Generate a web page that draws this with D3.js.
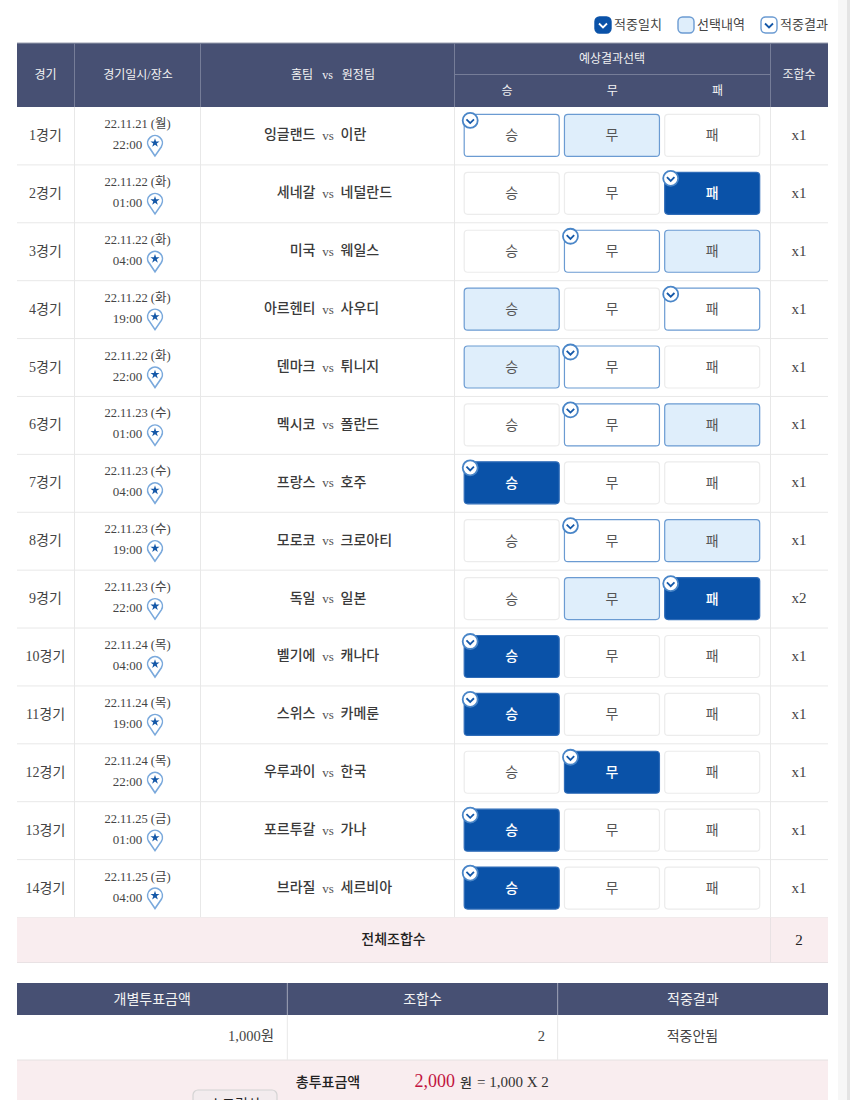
<!DOCTYPE html>
<html lang="ko">
<head>
<meta charset="utf-8">
<script src="https://cdn.jsdelivr.net/npm/d3@7"></script>
<style>
  html, body { margin: 0; padding: 0; background: #fff; overflow: hidden; }
  svg { display: block; }
  text { font-family: "Liberation Serif", "Noto Sans CJK KR", serif; white-space: pre; }
</style>
</head>
<body>
<div id="chart"></div>
<script>
const gameLabels = ['1경기', '2경기', '3경기', '4경기', '5경기', '6경기', '7경기', '8경기', '9경기', '10경기', '11경기', '12경기', '13경기', '14경기'];
const gameDates = ['22.11.21 (월)', '22.11.22 (화)', '22.11.22 (화)', '22.11.22 (화)', '22.11.22 (화)', '22.11.23 (수)', '22.11.23 (수)', '22.11.23 (수)', '22.11.23 (수)', '22.11.24 (목)', '22.11.24 (목)', '22.11.24 (목)', '22.11.25 (금)', '22.11.25 (금)'];
const gameTimes = ['22:00', '01:00', '04:00', '19:00', '22:00', '01:00', '04:00', '19:00', '22:00', '04:00', '19:00', '22:00', '01:00', '04:00'];
const homeTeams = ['잉글랜드', '세네갈', '미국', '아르헨티', '덴마크', '멕시코', '프랑스', '모로코', '독일', '벨기에', '스위스', '우루과이', '포르투갈', '브라질'];
const awayTeams = ['이란', '네덜란드', '웨일스', '사우디', '튀니지', '폴란드', '호주', '크로아티', '일본', '캐나다', '카메룬', '한국', '가나', '세르비아'];
const outcomes = ['승', '무', '패'];
// what was picked and what actually happened, per game
const picks = [['무'], ['패'], ['패'], ['승'], ['승'], ['패'], ['승'], ['패'], ['무', '패'], ['승'], ['승'], ['무'], ['승'], ['승']];
const results = ['승', '패', '무', '패', '무', '무', '승', '무', '패', '승', '승', '무', '승', '승'];
const combos = [1, 1, 1, 1, 1, 1, 1, 1, 2, 1, 1, 1, 1, 1];
const legendItems = [['적중일치', 'match'], ['선택내역', 'pick'], ['적중결과', 'result']];
const summaryHeaders = ['개별투표금액', '조합수', '적중결과'];

const width = 850;
const height = 1100;
const navy = '#475073';
const blue = '#0a52a8';
const edge = '#6b9bd2';
const paleBlue = '#dfeefb';
const pink = '#f9edef';
const grid = '#e8e8e8';
const textColor = '#444';

const svg = d3.select('#chart').append('svg')
  .attr('width', width)
  .attr('height', height);

const left = 17;
const right = 828;
const colX = [left, 74, 200, 454, 770, right];

const y = d3.scaleBand().domain(d3.range(gameLabels.length)).range([107, 917.5]);
const rowMid = i => y(i) + y.bandwidth() / 2;
const outcomeX = d3.scalePoint().domain(outcomes).range([511.7, 712.2]);
const btnW = 95;
const btnH = 42;

function label(g, x, yy, str, opts = {}) {
  return g.append('text')
    .attr('x', x)
    .attr('y', yy)
    .attr('text-anchor', opts.anchor || 'middle')
    .attr('dominant-baseline', 'central')
    .attr('font-size', opts.size || 13)
    .attr('font-weight', opts.weight || 400)
    .attr('fill', opts.color || textColor)
    .text(str);
}

// scrollbar strip on the right side of the screenshot
svg.append('rect').attr('x', 838).attr('y', 0).attr('width', 12).attr('height', height).attr('fill', '#f7f7f7');
svg.append('rect').attr('x', 847).attr('y', 0).attr('width', 3).attr('height', height).attr('fill', '#e4e4e4');

// little check badge on the result button
function checkBadge(g, cx, cy, r) {
  g.append('circle').attr('cx', cx).attr('cy', cy).attr('r', r)
    .attr('fill', '#fff').attr('stroke', '#4a86c8').attr('stroke-width', 1.8);
  g.append('path')
    .attr('d', d3.line()([[cx - r * 0.5, cy - r * 0.15], [cx, cy + r * 0.35], [cx + r * 0.5, cy - r * 0.15]]))
    .attr('fill', 'none').attr('stroke', '#1558a8').attr('stroke-width', 1.8);
}

function legendBox(g, x, kind) {
  const s = 16;
  const top = 17;
  g.append('rect').attr('x', x).attr('y', top).attr('width', s).attr('height', s).attr('rx', 4.5)
    .attr('fill', kind === 'match' ? blue : kind === 'pick' ? paleBlue : '#fff')
    .attr('stroke', kind === 'match' ? blue : edge)
    .attr('stroke-width', 1.4);
  if (kind !== 'pick') {
    g.append('path')
      .attr('d', d3.line()([[x + 4, top + 6.5], [x + 8, top + 10.5], [x + 12, top + 6.5]]))
      .attr('fill', 'none')
      .attr('stroke', kind === 'match' ? '#fff' : '#1558a8')
      .attr('stroke-width', 1.8);
  }
}

const legendX = d3.scalePoint().domain(legendItems.map(d => d[1])).range([595, 761]);
const legend = svg.append('g');
legendItems.forEach(([name, kind]) => {
  legendBox(legend, legendX(kind), kind);
  label(legend, legendX(kind) + 19, 24, name, { anchor: 'start', size: 13 });
});

// header
const head = svg.append('g');
head.append('rect').attr('x', left).attr('y', 43).attr('width', right - left).attr('height', 64).attr('fill', navy);
head.append('line').attr('x1', left).attr('x2', right).attr('y1', 43).attr('y2', 43).attr('stroke', '#9a9fb0');
colX.slice(1, -1).forEach(x => {
  head.append('line').attr('x1', x + 0.5).attr('x2', x + 0.5).attr('y1', 43).attr('y2', 107).attr('stroke', '#767d98');
});
head.append('line').attr('x1', colX[3]).attr('x2', colX[4]).attr('y1', 74.5).attr('y2', 74.5).attr('stroke', '#767d98');
label(head, 45.5, 75, '경기', { color: '#f2f2f2', size: 12 });
label(head, 138, 75, '경기일시/장소', { color: '#f2f2f2', size: 12 });
label(head, 333, 75, '홈팀   vs   원정팀', { color: '#f2f2f2', size: 12 });
label(head, 612, 59, '예상결과선택', { color: '#f2f2f2', size: 12 });
label(head, 799, 75, '조합수', { color: '#f2f2f2', size: 12 });
const headOutcomeX = d3.scalePoint().domain(outcomes).range([507, 717.5]);
outcomes.forEach(o => label(head, headOutcomeX(o), 91, o, { color: '#f2f2f2', size: 12 }));

// grid of the game rows
const body = svg.append('g');
gameLabels.forEach((_, i) => {
  body.append('line').attr('x1', left).attr('x2', right)
    .attr('y1', y(i) + y.bandwidth()).attr('y2', y(i) + y.bandwidth())
    .attr('stroke', grid);
});
colX.slice(1, -1).forEach(x => {
  body.append('line').attr('x1', x + 0.5).attr('x2', x + 0.5).attr('y1', 107).attr('y2', 917.5).attr('stroke', grid);
});

function pin(g, cx, cy) {
  const p = d3.path();
  p.moveTo(cx, cy + 13);
  p.lineTo(cx - 6.2, cy + 3.8);
  p.arc(cx, cy, 7.4, Math.PI * 0.83, Math.PI * 2.17);
  p.closePath();
  g.append('path').attr('d', p.toString())
    .attr('fill', '#fff').attr('stroke', '#7aa9dc').attr('stroke-width', 1.6);
  g.append('path').attr('d', d3.symbol(d3.symbolStar, 26)())
    .attr('transform', `translate(${cx},${cy})`)
    .attr('fill', '#1558a8');
}

gameLabels.forEach((name, i) => {
  const g = body.append('g');
  const mid = rowMid(i);
  label(g, 45.5, mid - 0.5, name, { size: 14 });
  label(g, 137.5, mid - 12, gameDates[i], { size: 12.5 });
  label(g, 127.5, mid + 8.5, gameTimes[i], { size: 13 });
  pin(g, 155, mid + 7);

  // the vs stays put, names hang off either side of it
  label(g, 315.5, mid - 1, homeTeams[i], { anchor: 'end', size: 14, weight: 500, color: '#3a3a3a' });
  label(g, 328, mid - 0.5, 'vs', { size: 13, color: '#555' });
  label(g, 340.5, mid - 1, awayTeams[i], { anchor: 'start', size: 14, weight: 500, color: '#3a3a3a' });
  label(g, 799, mid - 1, `x${combos[i]}`, { size: 15 });

  outcomes.forEach(o => {
    const isPick = picks[i].includes(o);
    const isResult = results[i] === o;
    const match = isPick && isResult;
    const x = outcomeX(o) - btnW / 2;
    const top = mid - btnH / 2 - 0.5;
    g.append('rect')
      .attr('x', x).attr('y', top)
      .attr('width', btnW).attr('height', btnH)
      .attr('rx', 3.5)
      .attr('fill', match ? blue : isPick ? paleBlue : '#fff')
      .attr('stroke', match ? '#2f6cb8' : (isPick || isResult) ? edge : '#ececec')
      .attr('stroke-width', 1.2);
    label(g, outcomeX(o), mid, o, { size: 14, color: match ? '#fff' : '#555', weight: match ? 500 : 400 });
    if (isResult) checkBadge(g, x + 6, top + 6, 7.5);
  });
});

// total row
const total = svg.append('g');
total.append('rect').attr('x', left).attr('y', 917.5).attr('width', right - left).attr('height', 45).attr('fill', pink);
total.append('line').attr('x1', left).attr('x2', right).attr('y1', 962.5).attr('y2', 962.5).attr('stroke', '#e9e2e4');
total.append('line').attr('x1', 770.5).attr('x2', 770.5).attr('y1', 917.5).attr('y2', 962.5).attr('stroke', '#e9e2e4');
label(total, 393.5, 939, '전체조합수', { size: 14, weight: 500, color: '#222' });
label(total, 799, 939.5, '2', { size: 15, color: '#222' });

// lower summary table
const summaryX = d3.scaleBand().domain(summaryHeaders).range([left, right]);
const summary = svg.append('g');
summary.append('rect').attr('x', left).attr('y', 983).attr('width', right - left).attr('height', 32).attr('fill', navy);
summary.append('rect').attr('x', left).attr('y', 1060).attr('width', right - left).attr('height', 40).attr('fill', pink);
summary.append('line').attr('x1', left).attr('x2', right).attr('y1', 1060).attr('y2', 1060).attr('stroke', '#e6e2e2');
summaryHeaders.forEach((h, i) => {
  const x = summaryX(h);
  label(summary, x + summaryX.bandwidth() / 2, 999, h, { color: '#f2f2f2', size: 14 });
  if (i > 0) {
    summary.append('line').attr('x1', x).attr('x2', x).attr('y1', 983).attr('y2', 1015).attr('stroke', '#a0a5b8');
    summary.append('line').attr('x1', x).attr('x2', x).attr('y1', 1015).attr('y2', 1060).attr('stroke', grid);
  }
});
label(summary, 274, 1036, '1,000원', { anchor: 'end', size: 14.5 });
label(summary, 545, 1036, '2', { anchor: 'end', size: 14.5 });
label(summary, 692.5, 1036, '적중안됨', { size: 14 });

label(summary, 328, 1082, '총투표금액', { size: 14, weight: 500, color: '#222' });
label(summary, 455, 1081, '2,000', { anchor: 'end', size: 18, color: '#c2143f' });
label(summary, 460, 1082, '원', { anchor: 'start', size: 13, weight: 500, color: '#333' });
label(summary, 477, 1082, '= 1,000 X 2', { anchor: 'start', size: 15, color: '#333' });

// floating button, the screenshot cuts it off at the bottom edge
summary.append('rect').attr('x', 193).attr('y', 1090).attr('width', 84).attr('height', 32).attr('rx', 5)
  .attr('fill', '#f3ecee').attr('stroke', '#d4d4d4').attr('stroke-width', 1.2);
label(summary, 235, 1104, '스크린샷', { size: 14, color: '#222' });
</script>
</body>
</html>
